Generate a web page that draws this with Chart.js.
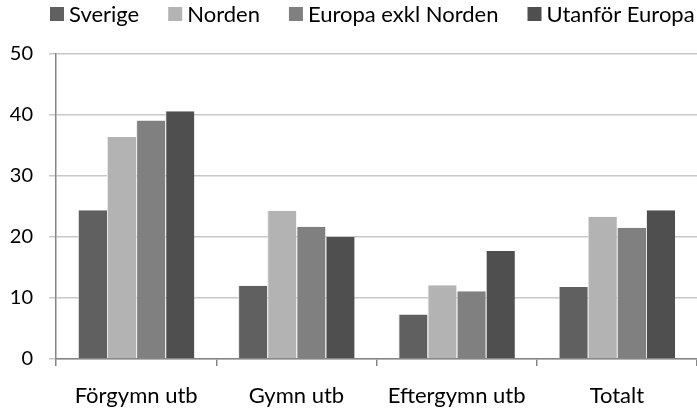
<!DOCTYPE html>
<html><head><meta charset="utf-8">
<script src="https://cdn.jsdelivr.net/npm/chart.js@4.4.0/dist/chart.umd.min.js"></script>
<style>html,body{margin:0;padding:0;background:#fff;}#wrap{width:697px;height:414px;}</style>
</head><body><div id="wrap"><canvas id="c" width="697" height="414"></canvas></div>
<script>
const categories = ["Förgymn utb", "Gymn utb", "Eftergymn utb", "Totalt"];
const sverige = [24.4, 12.0, 7.3, 11.8];
const norden = [36.4, 24.3, 12.1, 23.3];
const europa = [39.1, 21.7, 11.1, 21.5];
const utanfor = [40.6, 20.0, 17.7, 24.4];
const seriesNames = ["Sverige", "Norden", "Europa exkl Norden", "Utanför Europa"];
const yTicks = [0, 10, 20, 30, 40, 50];
const colors = ["#606060", "#b3b3b3", "#808080", "#4f4f4f"];
const FONT = "Lato, 'Open Sans', sans-serif";

const data = {
  labels: categories,
  datasets: [sverige, norden, europa, utanfor].map((d, i) => ({
    label: seriesNames[i], data: d, backgroundColor: colors[i],
    borderColor: "#e6e6e6", borderWidth: {left:1,right:0,top:0,bottom:0},
    categoryPercentage: 0.727, barPercentage: 1.0
  }))
};

// Custom legend drawn from the dataset labels/colours
const legendPlugin = {
  id: "topLegend",
  afterDraw(chart) {
    const ctx = chart.ctx;
    ctx.save();
    ctx.font = "22px " + FONT;
    ctx.textBaseline = "alphabetic";
    let x = 50;
    const boxTop = 7, box = 14, gapText = 5, gapItem = 29, baseline = 22;
    chart.data.datasets.forEach(ds => {
      ctx.fillStyle = ds.backgroundColor;
      ctx.fillRect(x, boxTop, box, box);
      ctx.fillStyle = "#000";
      const tx = x + box + gapText;
      ctx.fillText(ds.label, tx, baseline);
      x = tx + ctx.measureText(ds.label).width + gapItem;
    });
    ctx.restore();
  }
};

new Chart(document.getElementById("c"), {
  type: "bar",
  data,
  plugins: [legendPlugin],
  options: {
    responsive: false, animation: false, devicePixelRatio: 1,
    layout: { padding: { left: 0, right: -3, top: 54, bottom: 0 } },
    plugins: {
      tooltip: { enabled: false },
      legend: { display: false }
    },
    scales: {
      x: {
        grid: { display: true, drawOnChartArea: false, offset: true, tickLength: 7, color: "#868686", lineWidth: 1.5 },
        border: { color: "#868686", width: 1.5 },
        ticks: { color: "#000", font: { family: FONT, size: 22 }, padding: 17 },
        afterFit(s) { s.height = 55; }
      },
      y: {
        min: 0, max: 50,
        afterBuildTicks(s) { s.ticks = yTicks.map(v => ({ value: v })); },
        ticks: { color: "#000", font: { family: FONT, size: 20 }, padding: 16 },
        grid: { color: "#c8c8c8", tickLength: 7, lineWidth: 1.5 },
        border: { color: "#868686", width: 1.5 },
        afterFit(s) { s.width = 56; }
      }
    }
  }
});
</script></body></html>
